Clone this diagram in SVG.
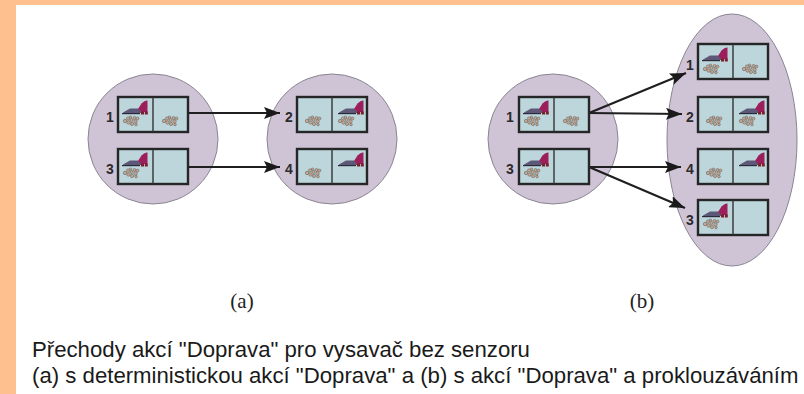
<svg xmlns="http://www.w3.org/2000/svg" width="804" height="394" viewBox="0 0 804 394">
<style>
.region{fill:#cfc3d6;stroke:#8a8590;stroke-width:1}
.box{fill:#bcd6dc;stroke:#262626;stroke-width:2.4}
.div{stroke:#333;stroke-width:1.4}
.num{font:bold 14px "Liberation Sans",Arial,sans-serif;fill:#2b2b2b;text-anchor:middle}
.sub{font:21px "Liberation Serif","Times New Roman",serif;fill:#222;text-anchor:middle}
.cap{font:22.2px "Liberation Sans",Arial,sans-serif;fill:#1a1a1a}
.conn{fill:none;stroke:#1f1f1f;stroke-width:2.2}
</style>
<defs>
<marker id="arr" markerUnits="userSpaceOnUse" markerWidth="17" markerHeight="12" refX="16" refY="6" orient="auto"><path d="M0 0L16 6L0 12L3 6Z" fill="#1a1a1a"/></marker>
<g id="vac">
<path d="M1 12.500L8 8.500H16L19 11V13H1Z" fill="#5d5878"/>
<path d="M0 13H18V14.200H0Z" fill="#2b2b3a"/>
<path d="M16 9L19.500 3.500Q23 0 25.500 0.500V12H19.500Z" fill="#9c1f5c"/>
<rect x="19" y="11.500" width="3" height="3" fill="#7a1f2a"/><rect x="22.800" y="11.500" width="3" height="3" fill="#7a1f2a"/>
</g>
<g id="dirt" fill="#cda48c" stroke="#6f7270" stroke-width=".7">
<circle cx="-6" cy="0" r="1.700"/><circle cx="-3" cy="-2.500" r="1.600"/><circle cx="-2.500" cy="1.500" r="1.700"/><circle cx="0.500" cy="-1" r="1.500"/><circle cx="1" cy="3" r="1.600"/><circle cx="3.500" cy="-3" r="1.500"/><circle cx="4.500" cy="0.500" r="1.700"/><circle cx="6.500" cy="-2.500" r="1.400"/><circle cx="-0.500" cy="-3.800" r="1.200"/><circle cx="5" cy="3.500" r="1.300"/>
</g>
<g id="box"><rect class="box" x="0" y="0" width="70" height="35"/><line class="div" x1="35" y1="0" x2="35" y2="35"/></g>
</defs>
<rect width="804" height="394" fill="#fff"/>
<path d="M0 0H804V5H16V394H0Z" fill="#ffc08f"/>

<ellipse class="region" cx="153" cy="139" rx="65" ry="65"/>
<ellipse class="region" cx="332" cy="139" rx="65" ry="65"/>
<ellipse class="region" cx="553" cy="139" rx="65" ry="65"/>
<ellipse class="region" cx="732" cy="140" rx="65" ry="126"/>

<g id="connectors">
<path class="conn" marker-end="url(#arr)" d="M188 113H280"/>
<path class="conn" marker-end="url(#arr)" d="M188 167H280"/>
<path class="conn" marker-end="url(#arr)" d="M589 113L686 73"/>
<path class="conn" marker-end="url(#arr)" d="M589 113L682 114"/>
<path class="conn" marker-end="url(#arr)" d="M589 167L681 167"/>
<path class="conn" marker-end="url(#arr)" d="M589 167L685 208"/>
</g>

<g id="a1"><use href="#box" x="118" y="97"/><use href="#vac" x="122" y="100"/><use href="#dirt" x="131" y="121"/><use href="#dirt" x="170" y="121"/><text class="num" x="110" y="122">1</text></g>
<g id="a3"><use href="#box" x="118" y="149"/><use href="#vac" x="122" y="152"/><use href="#dirt" x="131" y="173"/><text class="num" x="110" y="174">3</text></g>
<g id="a2"><use href="#box" x="297" y="97"/><use href="#dirt" x="313" y="121"/><use href="#vac" x="338" y="100"/><use href="#dirt" x="346" y="121"/><text class="num" x="289" y="122">2</text></g>
<g id="a4"><use href="#box" x="297" y="149"/><use href="#dirt" x="313" y="173"/><use href="#vac" x="338" y="152"/><text class="num" x="289" y="174">4</text></g>

<g id="b1"><use href="#box" x="519" y="97"/><use href="#vac" x="523" y="100"/><use href="#dirt" x="532" y="121"/><use href="#dirt" x="571" y="121"/><text class="num" x="510" y="122">1</text></g>
<g id="b3"><use href="#box" x="519" y="149"/><use href="#vac" x="523" y="152"/><use href="#dirt" x="532" y="173"/><text class="num" x="510" y="174">3</text></g>

<g id="c1"><use href="#box" x="698" y="44"/><use href="#vac" x="702" y="47"/><use href="#dirt" x="711" y="69"/><use href="#dirt" x="750" y="69"/><text class="num" x="690" y="70">1</text></g>
<g id="c2"><use href="#box" x="698" y="97"/><use href="#dirt" x="714" y="121"/><use href="#vac" x="739" y="100"/><use href="#dirt" x="747" y="121"/><text class="num" x="690" y="122">2</text></g>
<g id="c4"><use href="#box" x="698" y="149"/><use href="#dirt" x="714" y="173"/><use href="#vac" x="739" y="152"/><text class="num" x="690" y="174">4</text></g>
<g id="c3"><use href="#box" x="698" y="200"/><use href="#vac" x="702" y="203"/><use href="#dirt" x="711" y="224"/><text class="num" x="690" y="225">3</text></g>

<text class="sub" x="242" y="308">(a)</text>
<text class="sub" x="642" y="308">(b)</text>
<text class="cap" x="32" y="357">Přechody akcí "Doprava" pro vysavač bez senzoru</text>
<text class="cap" x="32" y="383">(a) s deterministickou akcí "Doprava" a (b) s akcí "Doprava" a proklouzáváním</text>
</svg>
